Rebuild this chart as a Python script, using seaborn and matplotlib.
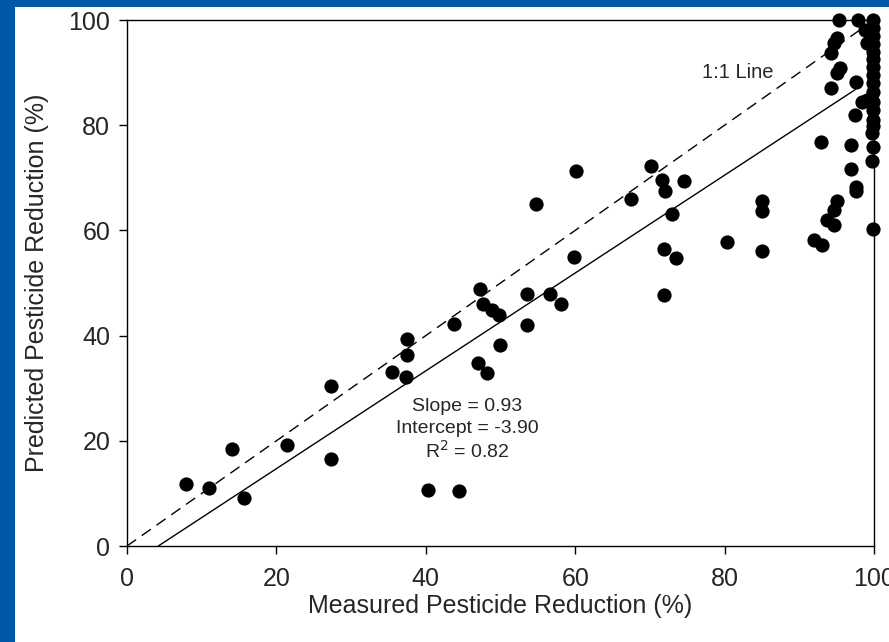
import numpy as np
import pandas as pd
import seaborn as sns
import matplotlib.pyplot as plt
from matplotlib.patches import Rectangle

# measured vs predicted pesticide reduction (%)
measured = [7.9, 11.0, 14.0, 15.6, 21.4, 27.3, 27.3, 35.5, 37.3, 37.5, 37.5,
            40.3, 44.4, 43.8, 47.3, 47.7, 48.8, 49.8, 47.0, 48.2, 49.9,
            53.6, 53.6, 56.6, 58.1, 60.1, 54.8, 59.8, 70.1, 71.6, 72.0,
            74.6, 67.5, 72.9, 71.9, 73.5, 71.9, 80.3, 85.0, 85.0, 85.0,
            92.0, 93.0,
            92.9, 96.9, 96.9, 97.6, 97.6, 95.0, 94.6, 93.7, 94.6, 99.9,
            99.7, 99.9, 99.7, 95.3, 97.9, 95.1, 94.6, 94.3, 95.4, 95.1,
            94.2, 97.6, 98.4, 97.5, 99.0, 98.8, 99.0,
            99.9, 99.9, 99.9, 99.9, 99.9, 99.9, 99.9, 99.9, 99.9, 99.9,
            99.9, 99.9, 99.9, 99.9]
predicted = [11.8, 11.0, 18.4, 9.2, 19.2, 30.4, 16.5, 33.0, 32.1, 39.3, 36.4,
             10.6, 10.5, 42.3, 48.8, 46.1, 44.9, 43.9, 34.7, 32.8, 38.2,
             48.0, 42.1, 48.0, 46.1, 71.3, 65.0, 54.9, 72.2, 69.6, 67.5,
             69.3, 65.9, 63.2, 56.5, 54.7, 47.7, 57.7, 65.5, 63.6, 56.1,
             58.2, 57.2,
             76.9, 76.2, 71.6, 68.3, 67.4, 65.5, 63.9, 62.0, 61.0, 60.2,
             78.5, 75.9, 73.1, 100.0, 100.0, 96.5, 95.6, 93.7, 90.8, 89.9,
             87.0, 88.3, 84.5, 81.9, 84.8, 98.1, 95.6,
             100.0, 98.5, 97.0, 95.5, 94.0, 92.5, 91.0, 89.5, 88.0, 86.3,
             84.5, 82.8, 81.0, 79.8]

slope = 0.93
intercept = -3.90
r2 = 0.82

df = pd.DataFrame({"measured": measured, "predicted": predicted})

sns.set_style("white")
plt.rcParams["font.family"] = ["Liberation Sans", "DejaVu Sans"]

fig = plt.figure(figsize=(8.89, 6.42), dpi=100)
fig.patch.set_facecolor("#0058a9")
fig.patches.append(Rectangle((15 / 889, 0), 1, 1 - 7 / 642, transform=fig.transFigure,
                             facecolor="white", edgecolor="none", zorder=-5))
ax = fig.add_axes([127 / 889, 1 - 546 / 642, 747 / 889, 526 / 642])
ax.set_zorder(2)
ax.patch.set_alpha(0)

# 1:1 line and regression line
one = pd.DataFrame({"x": [0, 98], "y": [0, 98]})
sns.lineplot(data=one, x="x", y="y", ax=ax, color="black", lw=1.0,
             dashes=False, linestyle=(0, (8, 5)))
fx = np.array([-intercept / slope, 97.5])
fit = pd.DataFrame({"x": fx, "y": slope * fx + intercept})
sns.lineplot(data=fit, x="x", y="y", ax=ax, color="black", lw=1.0)

sns.scatterplot(data=df, x="measured", y="predicted", ax=ax, color="black",
                s=105, edgecolor="black", linewidth=0, zorder=5, clip_on=False)

ax.set_xlim(0, 100)
ax.set_ylim(0, 100)
ax.set_xticks([0, 20, 40, 60, 80, 100])
ax.set_yticks([0, 20, 40, 60, 80, 100])
for s in ax.spines.values():
    s.set_color("black")
    s.set_linewidth(1.0)
ax.tick_params(axis="both", direction="out", length=6, width=1, color="black",
               labelsize=18, bottom=True, left=True)
ax.tick_params(axis="x", pad=9)
ax.tick_params(axis="y", pad=6)
ax.set_xlabel("Measured Pesticide Reduction (%)", fontsize=18, labelpad=2)
ax.set_ylabel("Predicted Pesticide Reduction (%)", fontsize=18, labelpad=14)

ax.text(45.5, 26.6, f"Slope = {slope:.2f}", ha="center", va="center", fontsize=14)
ax.text(45.5, 22.4, f"Intercept = {intercept:.2f}", ha="center", va="center", fontsize=14)
ax.text(45.5, 18.1, f"R$^2$ = {r2:.2f}", ha="center", va="center", fontsize=14)
ax.text(81.7, 90.1, "1:1 Line", ha="center", va="center", fontsize=14.5)

fig.savefig("out.png", dpi=100, facecolor=fig.get_facecolor())
